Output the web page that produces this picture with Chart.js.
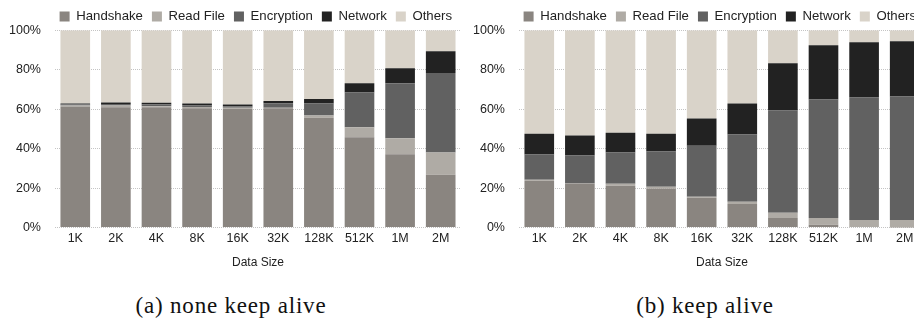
<!DOCTYPE html>
<html>
<head>
<meta charset="utf-8">
<script src="https://cdn.jsdelivr.net/npm/chart.js@4"></script>
<style>
  html, body { margin: 0; padding: 0; background: #fff; overflow: hidden; }
  body { width: 914px; height: 324px; position: relative; }
  .panel { position: absolute; top: -2px; width: 468px; height: 272px; }
  .caption { position: absolute; top: 293px; font-family: "Liberation Serif", serif; font-size: 23px; letter-spacing: 0.8px; color: #111; white-space: nowrap; transform: translateX(-50%); }
</style>
</head>
<body>
<div class="panel" style="left:-5px"><canvas id="noKeepAlive"></canvas></div>
<div class="panel" style="left:459px"><canvas id="keepAlive"></canvas></div>
<div class="caption" style="left:231px">(a) none keep alive</div>
<div class="caption" style="left:705px">(b) keep alive</div>
<script>
const sizes = ['1K', '2K', '4K', '8K', '16K', '32K', '128K', '512K', '1M', '2M'];
const yTicks = [0, 20, 40, 60, 80, 100];

// (a) none keep alive, percent of total time
const handshakeA  = [61.3, 61.0, 61.0, 60.5, 60.2, 60.5, 55.6, 45.8, 37.1, 26.8];
const readFileA   = [0.6, 0.9, 0.5, 0.6, 0.5, 0.2, 1.2, 5.0, 8.2, 11.2];
const encryptionA = [0.5, 0.7, 1.0, 0.8, 0.8, 2.3, 6.1, 17.7, 27.8, 40.3];
const networkA    = [0.5, 0.8, 0.8, 1.0, 0.9, 1.1, 2.2, 4.6, 7.6, 11.0];
const othersA     = [37.1, 36.6, 36.7, 37.1, 37.6, 35.9, 34.9, 26.9, 19.3, 10.7];

// (b) keep alive
const handshakeB  = [23.7, 22.2, 21.2, 19.7, 15.1, 12.0, 4.9, 1.4, 0.3, 0.1];
const readFileB   = [0.5, 0.2, 1.0, 1.0, 0.5, 1.1, 2.6, 3.5, 3.6, 3.8];
const encryptionB = [12.8, 14.1, 15.8, 17.8, 25.9, 34.0, 51.8, 60.0, 62.0, 62.5];
const networkB    = [10.6, 10.1, 10.1, 9.1, 13.8, 15.8, 23.9, 27.5, 28.0, 28.0];
const othersB     = [52.4, 53.4, 51.9, 52.4, 44.7, 37.1, 16.8, 7.6, 6.1, 5.6];

const seriesNames = ['Handshake', 'Read File', 'Encryption', 'Network', 'Others'];
const seriesColors = ['#8a8580', '#afaba5', '#616161', '#222222', '#d9d3c9'];

const font = { family: 'Liberation Sans, Arial, sans-serif', size: 12.5 };

// pulls the legend a little closer to the plot without moving the plot
const tightLegend = {
    id: 'tightLegend',
    afterInit(chart) {
        const legend = chart.legend;
        if (!legend) return;
        const fit = legend.fit.bind(legend);
        legend.fit = () => { fit(); legend.height -= 3; };
    }
};

function makeChart(id, values) {
    const ctx = document.getElementById(id).getContext('2d');
    return new Chart(ctx, {
        type: 'bar',
        data: {
            labels: sizes,
            datasets: values.map((data, i) => ({
                label: seriesNames[i],
                data: data,
                backgroundColor: seriesColors[i],
                borderWidth: 0,
                barPercentage: 0.73,
                categoryPercentage: 1
            }))
        },
        plugins: [tightLegend],
        options: {
            responsive: true,
            maintainAspectRatio: false,
            animation: false,
            layout: { padding: { left: 0, right: 2, top: 3, bottom: 0 } },
            scales: {
                x: {
                    stacked: true,
                    grid: { display: false, drawTicks: false },
                    border: { display: false },
                    ticks: { color: '#222', font: font, padding: 3 },
                    title: {
                        display: true,
                        text: 'Data Size',
                        color: '#222',
                        font: { family: font.family, size: 12 },
                        padding: { top: 7, bottom: 0 }
                    }
                },
                y: {
                    stacked: true,
                    min: 0,
                    max: 100,
                    afterBuildTicks: axis => { axis.ticks = yTicks.map(v => ({ value: v })); },
                    grid: { color: '#c4c4c4', lineWidth: 1, drawTicks: false },
                    border: { display: false, dash: [1, 1] },
                    ticks: {
                        color: '#222',
                        font: font,
                        padding: 14,
                        callback: v => v + '%'
                    }
                }
            },
            plugins: {
                legend: {
                    position: 'top',
                    align: 'end',
                    labels: {
                        color: '#222',
                        font: { family: font.family, size: 13.2 },
                        boxWidth: 10,
                        boxHeight: 10,
                        padding: 9
                    }
                },
                tooltip: { enabled: false }
            }
        }
    });
}

makeChart('noKeepAlive', [handshakeA, readFileA, encryptionA, networkA, othersA]);
makeChart('keepAlive', [handshakeB, readFileB, encryptionB, networkB, othersB]);
</script>
</body>
</html>
